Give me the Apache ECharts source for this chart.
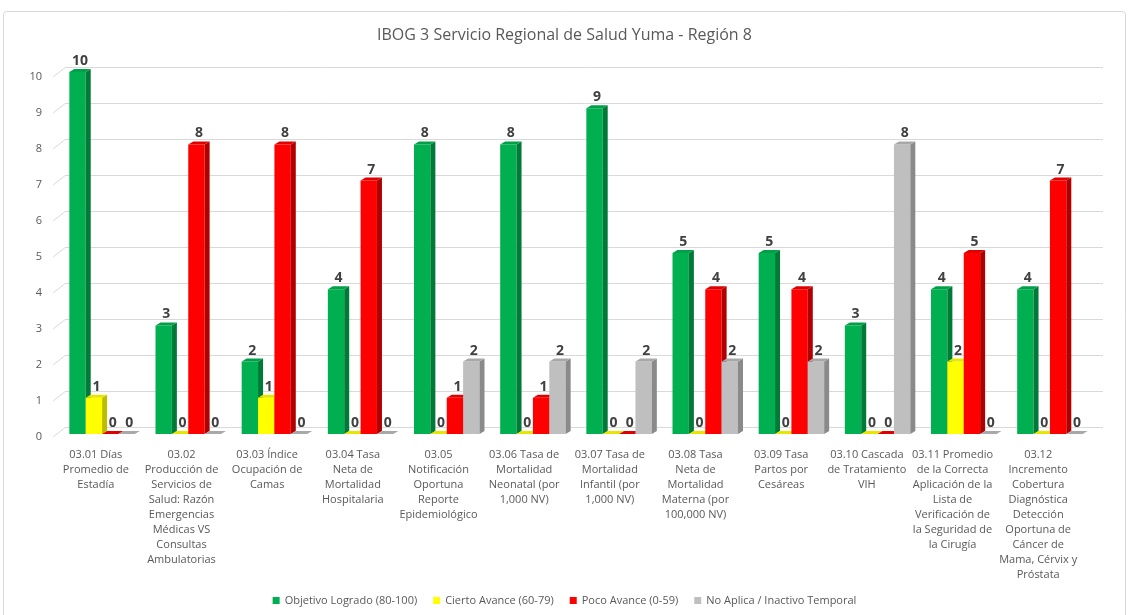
<!DOCTYPE html>
<html>
<head>
<meta charset="utf-8">
<script src="https://cdn.jsdelivr.net/npm/echarts@6/dist/echarts.min.js"></script>
<style>
  html, body { margin: 0; padding: 0; background: #fff; }
  #chart { width: 1129px; height: 615px; }
</style>
</head>
<body>
<div id="chart"></div>
<script>
const categories = [
    '03.01 Días\nPromedio de\nEstadía',
    '03.02\nProducción de\nServicios de\nSalud: Razón\nEmergencias\nMédicas VS\nConsultas\nAmbulatorias',
    '03.03 Índice\nOcupación de\nCamas',
    '03.04 Tasa\nNeta de\nMortalidad\nHospitalaria',
    '03.05\nNotificación\nOportuna\nReporte\nEpidemiológico',
    '03.06 Tasa de\nMortalidad\nNeonatal (por\n1,000 NV)',
    '03.07 Tasa de\nMortalidad\nInfantil (por\n1,000 NV)',
    '03.08 Tasa\nNeta de\nMortalidad\nMaterna (por\n100,000 NV)',
    '03.09 Tasa\nPartos por\nCesáreas',
    '03.10 Cascada\nde Tratamiento\nVIH',
    '03.11 Promedio\nde la Correcta\nAplicación de la\nLista de\nVerificación de\nla Seguridad de\nla Cirugía',
    '03.12\nIncremento\nCobertura\nDiagnóstica\nDetección\nOportuna de\nCáncer de\nMama, Cérvix y\nPróstata'
];

const logrado  = [10, 3, 2, 4, 8, 8, 9, 5, 5, 3, 4, 4];
const cierto   = [1, 0, 1, 0, 0, 0, 0, 0, 0, 0, 2, 0];
const poco     = [0, 8, 8, 7, 1, 1, 0, 4, 4, 0, 5, 7];
const noAplica = [0, 0, 0, 0, 2, 2, 2, 2, 2, 8, 0, 0];

const yTicks = [0, 1, 2, 3, 4, 5, 6, 7, 8, 9, 10];

const seriesDefs = [
    { name: 'Objetivo Logrado (80-100)', data: logrado, front: '#00B050', side: '#007A37', top: '#00A048' },
    { name: 'Cierto Avance (60-79)', data: cierto, front: '#FFFF00', side: '#BDBD00', top: '#E6E600' },
    { name: 'Poco Avance (0-59)', data: poco, front: '#FF0000', side: '#B00000', top: '#E00000' },
    { name: 'No Aplica / Inactivo Temporal', data: noAplica, front: '#BFBFBF', side: '#8A8A8A', top: '#A8A8A8' }
];

const chart = echarts.init(document.getElementById('chart'));
const font = 'Open Sans, sans-serif';
const DX = 5, DY = -3;

function bar3d(idx, def) {
    return function (params, api) {
        const cat = api.value(0);
        const val = api.value(1);
        const base = api.coord([cat, 0]);
        const topPt = api.coord([cat, val]);
        const band = api.size([1, 0])[0];
        const w = band * 0.19;
        const x = base[0] - 2 * w + idx * w;
        const y0 = base[1];
        const y = topPt[1];
        const children = [];
        if (val > 0) {
            children.push({ type: 'rect', shape: { x: x, y: y, width: w, height: y0 - y }, style: { fill: def.front } });
            children.push({ type: 'polygon', shape: { points: [[x + w, y], [x + w + DX, y + DY], [x + w + DX, y0 + DY], [x + w, y0]] }, style: { fill: def.side } });
        }
        children.push({ type: 'polygon', shape: { points: [[x, y], [x + w, y], [x + w + DX, y + DY], [x + DX, y + DY]] }, style: { fill: def.top } });
        children.push({
            type: 'text',
            style: {
                text: String(val), x: x + w / 2 + DX / 2, y: y + DY - 1,
                align: 'center', verticalAlign: 'bottom',
                fill: '#404040', font: 'bold 14px ' + font
            }
        });
        return { type: 'group', children: children };
    };
}

const series = seriesDefs.map((def, i) => ({
    name: def.name,
    type: 'custom',
    xAxisIndex: 1,
    yAxisIndex: 1,
    itemStyle: { color: def.front },
    renderItem: bar3d(i, def),
    data: def.data.map((v, c) => [c, v]),
    z: 10
}));

// diagonal lines joining front labels with back wall gridlines
series.push({
    type: 'custom',
    xAxisIndex: 2,
    yAxisIndex: 2,
    silent: true,
    renderItem: function (params, api) {
        const y = api.coord([0, api.value(0)])[1];
        const x = params.coordSys.x;
        return {
            type: 'line',
            shape: { x1: x, y1: y, x2: x + 13, y2: y - 10 },
            style: { stroke: '#D9D9D9', lineWidth: 1 }
        };
    },
    data: yTicks.map(v => [v]),
    encode: { y: 0 }
});

chart.setOption({
    animation: false,
    backgroundColor: '#fff',
    textStyle: { fontFamily: font },
    title: {
        text: 'IBOG 3 Servicio Regional de Salud Yuma - Región 8',
        left: 'center',
        top: 22,
        textStyle: { fontSize: 16, fontWeight: 'normal', color: '#595959', fontFamily: font }
    },
    graphic: [{
        type: 'rect',
        shape: { x: 3.5, y: 11.5, width: 1122, height: 612, r: 3 },
        style: { fill: 'none', stroke: '#D9D9D9', lineWidth: 1 },
        silent: true,
        z: -1
    }],
    legend: {
        bottom: 4,
        left: 'center',
        icon: 'rect',
        itemWidth: 7,
        itemHeight: 7,
        itemGap: 16,
        textStyle: { fontSize: 11, color: '#595959', fontFamily: font },
        data: seriesDefs.map(d => d.name)
    },
    grid: [
        { left: 66, right: 26, top: 67, bottom: 188 },
        { left: 59, right: 36, top: 72, bottom: 181 },
        { left: 53, right: 48, top: 77, bottom: 178 }
    ],
    xAxis: [
        { type: 'category', gridIndex: 0, data: categories, show: false },
        { type: 'category', gridIndex: 1, data: categories, show: false },
        {
            type: 'category', gridIndex: 2, data: categories,
            axisLine: { show: false }, axisTick: { show: false },
            axisLabel: { interval: 0, fontSize: 11, color: '#595959', lineHeight: 15, margin: 10, fontFamily: font }
        }
    ],
    yAxis: [
        {
            type: 'value', gridIndex: 0, min: 0, max: 10, interval: 1,
            axisLabel: { show: false }, axisLine: { show: false }, axisTick: { show: false },
            splitLine: { lineStyle: { color: '#D9D9D9', width: 1 } }
        },
        {
            type: 'value', gridIndex: 1, min: 0, max: 10, interval: 1, show: false,
            splitLine: { show: false }
        },
        {
            type: 'value', gridIndex: 2, min: 0, max: 10, interval: 1,
            axisLine: { show: false }, axisTick: { show: false },
            splitLine: { show: false },
            axisLabel: { fontSize: 11, color: '#595959', margin: 11, fontFamily: font }
        }
    ],
    series: series
});
</script>
</body>
</html>
